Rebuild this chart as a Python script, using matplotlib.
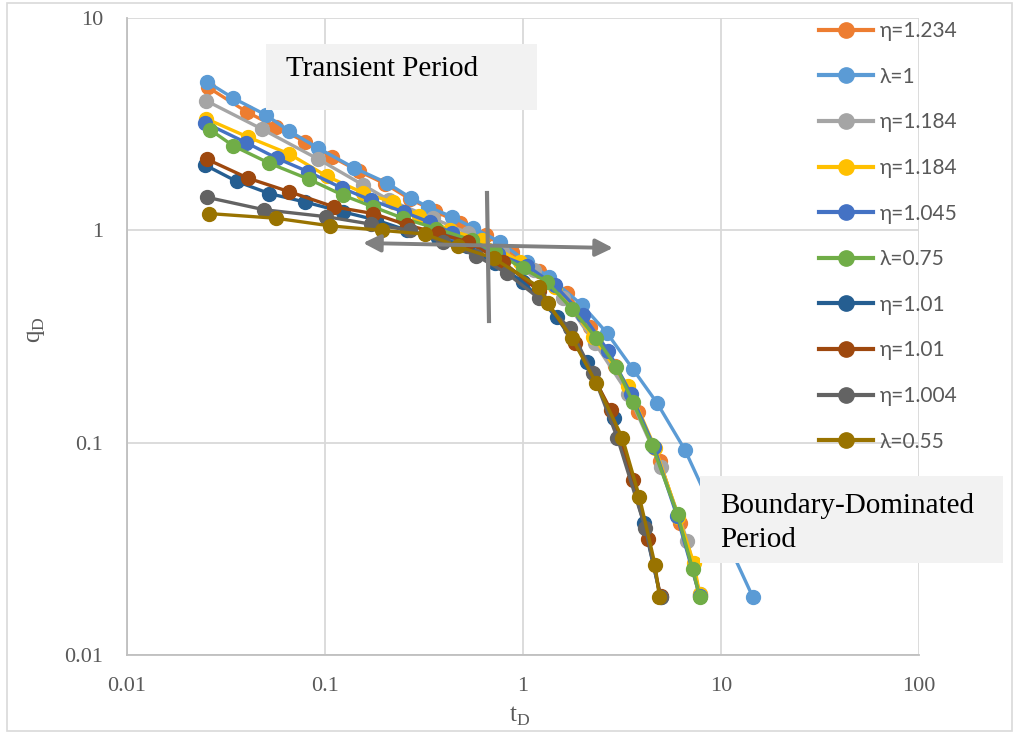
import matplotlib
matplotlib.use("Agg")
import matplotlib.pyplot as plt
from matplotlib.lines import Line2D
from matplotlib.patches import Rectangle, FancyArrowPatch
from matplotlib.ticker import FixedLocator, NullLocator

# ---- data ----
labels = ["η=1.234", "λ=1", "η=1.184", "η=1.184", "η=1.045",
          "λ=0.75", "η=1.01", "η=1.01", "η=1.004", "λ=0.55"]
colors = ["#ED7D31", "#5B9BD5", "#A5A5A5", "#FFC000", "#4472C4",
          "#70AD47", "#255E91", "#9E480E", "#636363", "#997300"]

t_eta1234 = [0.0256, 0.0405, 0.0565, 0.079, 0.108, 0.148, 0.20, 0.27, 0.36, 0.48,
             0.65, 0.88, 1.2, 1.67, 2.18, 2.9, 3.8, 4.9, 6.2, 7.8]
q_eta1234 = [4.72, 3.60, 3.07, 2.62, 2.22, 1.90, 1.66, 1.40, 1.23, 1.08,
             0.95, 0.79, 0.64, 0.507, 0.352, 0.23, 0.14, 0.082, 0.042, 0.019]

t_lam1 = [0.0254, 0.0343, 0.0504, 0.0658, 0.0923, 0.140, 0.206, 0.272, 0.331, 0.437,
          0.558, 0.766, 1.048, 1.353, 1.986, 2.66, 3.59, 4.75, 6.58, 14.5]
q_lam1 = [5.00, 4.20, 3.49, 2.94, 2.44, 1.97, 1.67, 1.42, 1.29, 1.16,
          1.03, 0.881, 0.709, 0.603, 0.445, 0.328, 0.222, 0.154, 0.0923, 0.0187]

t_eta1184a = [0.0252, 0.048, 0.092, 0.155, 0.21, 0.35, 0.53, 0.78, 1.13, 1.6,
              2.31, 3.4, 4.98, 6.76, 7.8]
q_eta1184a = [4.07, 3.0, 2.17, 1.64, 1.39, 1.14, 0.97, 0.80, 0.65, 0.48,
              0.294, 0.17, 0.077, 0.0345, 0.0194]

t_eta1184b = [0.0252, 0.0408, 0.066, 0.102, 0.156, 0.22, 0.30, 0.43, 0.62, 0.97,
              1.45, 2.27, 3.4, 4.65, 6.1, 7.3, 7.8]
q_eta1184b = [3.35, 2.75, 2.29, 1.80, 1.50, 1.36, 1.17, 1.00, 0.90, 0.71,
              0.54, 0.314, 0.184, 0.0944, 0.0448, 0.027, 0.0193]

t_eta1045 = [0.0248, 0.0399, 0.0575, 0.082, 0.122, 0.17, 0.25, 0.34, 0.44, 0.55,
             0.75, 1.05, 1.45, 2.0, 2.7, 3.5, 4.6, 6.0, 7.8]
q_eta1045 = [3.21, 2.59, 2.18, 1.89, 1.58, 1.39, 1.22, 1.09, 0.97, 0.86,
             0.77, 0.68, 0.55, 0.40, 0.27, 0.17, 0.095, 0.045, 0.019]

t_lam075 = [0.0264, 0.0344, 0.0524, 0.083, 0.124, 0.175, 0.248, 0.365, 0.55, 0.72,
            1.0, 1.32, 1.77, 2.35, 2.96, 3.58, 4.48, 6.03, 7.2, 7.8]
q_lam075 = [2.97, 2.50, 2.07, 1.74, 1.46, 1.29, 1.14, 1.02, 0.90, 0.79,
            0.662, 0.573, 0.425, 0.31, 0.228, 0.156, 0.0975, 0.046, 0.0253, 0.0188]

t_eta101a = [0.0248, 0.0358, 0.0524, 0.079, 0.124, 0.18, 0.26, 0.37, 0.52, 0.72,
             1.0, 1.48, 2.1, 2.87, 4.08, 4.95]
q_eta101a = [2.03, 1.70, 1.49, 1.36, 1.22, 1.12, 1.00, 0.92, 0.84, 0.70,
             0.573, 0.39, 0.24, 0.130, 0.0417, 0.0188]

t_eta101b = [0.0254, 0.0409, 0.066, 0.111, 0.175, 0.26, 0.37, 0.53, 0.79, 1.2,
             1.84, 2.77, 3.58, 4.3, 4.95]
q_eta101b = [2.16, 1.76, 1.52, 1.29, 1.20, 1.06, 0.97, 0.88, 0.71, 0.52,
             0.294, 0.143, 0.0667, 0.035, 0.019]

t_eta1004 = [0.0254, 0.0493, 0.101, 0.17, 0.27, 0.395, 0.58, 0.83, 1.2, 1.73,
             2.25, 3.0, 4.15, 4.95]
q_eta1004 = [1.43, 1.25, 1.16, 1.07, 1.00, 0.88, 0.76, 0.627, 0.48, 0.345,
             0.212, 0.105, 0.0395, 0.0188]

t_lam055 = [0.0258, 0.0566, 0.106, 0.193, 0.32, 0.47, 0.71, 1.20, 1.34, 1.77,
            2.35, 3.18, 3.87, 4.65, 4.88]
q_lam055 = [1.20, 1.14, 1.05, 1.00, 0.96, 0.84, 0.74, 0.542, 0.453, 0.31,
            0.19, 0.105, 0.0556, 0.0265, 0.0188]

series_t = [t_eta1234, t_lam1, t_eta1184a, t_eta1184b, t_eta1045,
            t_lam075, t_eta101a, t_eta101b, t_eta1004, t_lam055]
series_q = [q_eta1234, q_lam1, q_eta1184a, q_eta1184b, q_eta1045,
            q_lam075, q_eta101a, q_eta101b, q_eta1004, q_lam055]

x_ticks = [0.01, 0.1, 1, 10, 100]
y_ticks = [0.01, 0.1, 1, 10]
x_ticklabels = ["0.01", "0.1", "1", "10", "100"]
y_ticklabels = ["0.01", "0.1", "1", "10"]

# ---- figure ----
W, H = 1013, 732
fig = plt.figure(figsize=(W / 100, H / 100), dpi=100, facecolor="white")


def fx(px):
    return px / W


def fy(py):
    return 1 - py / H


ax = fig.add_axes([fx(127), fy(655), fx(919) - fx(127), fy(18) - fy(655)])
ax.set_xscale("log")
ax.set_yscale("log")
ax.set_xlim(0.01, 100)
ax.set_ylim(0.01, 10)

serif = ["Liberation Serif", "DejaVu Serif"]
for t, q, c in zip(series_t, series_q, colors):
    ax.plot(t, q, color=c, lw=2.4, marker="o", ms=10, mec=c, mfc=c,
            solid_capstyle="round")

ax.xaxis.set_major_locator(FixedLocator(x_ticks))
ax.yaxis.set_major_locator(FixedLocator(y_ticks))
ax.xaxis.set_minor_locator(NullLocator())
ax.yaxis.set_minor_locator(NullLocator())
ax.set_xticklabels(x_ticklabels)
ax.set_yticklabels(y_ticklabels)
ax.grid(True, color="#D9D9D9", lw=1.3, zorder=0)
ax.set_axisbelow(True)
ax.tick_params(length=0, labelsize=16, labelcolor="#595959")
ax.tick_params(axis="x", pad=16)
ax.tick_params(axis="y", pad=17)
for lab in ax.get_xticklabels() + ax.get_yticklabels():
    lab.set_family(serif)
for s in ["top", "right"]:
    ax.spines[s].set_visible(False)
for s in ["left", "bottom"]:
    ax.spines[s].set_color("#BFBFBF")
    ax.spines[s].set_linewidth(1.3)

fig.text(fx(520), fy(716), "t$_\\mathregular{D}$", family=serif, fontsize=18,
         color="#595959", ha="center", va="center")
fig.text(fx(36), fy(330), "q$_\\mathregular{D}$", family=serif, fontsize=18,
         color="#595959", ha="center", va="center", rotation=90)

# outer chart border
fig.add_artist(Rectangle((fx(7), fy(731)), fx(1012) - fx(7), fy(3) - fy(731),
                         transform=fig.transFigure, fill=False,
                         edgecolor="#D9D9D9", lw=1.2, zorder=1))

# text boxes
fig.add_artist(Rectangle((fx(266), fy(110)), fx(537) - fx(266), fy(44) - fy(110),
                         transform=fig.transFigure, facecolor="#F2F2F2",
                         edgecolor="none", zorder=5))
fig.text(fx(286), fy(69), "Transient Period", family=serif, fontsize=21,
         color="black", ha="left", va="center", zorder=6)
fig.add_artist(Rectangle((fx(700), fy(563)), fx(1003) - fx(700), fy(476) - fy(563),
                         transform=fig.transFigure, facecolor="#F2F2F2",
                         edgecolor="none", zorder=5))
fig.text(fx(720), fy(523), "Boundary-Dominated\nPeriod", family=serif, fontsize=21,
         color="black", ha="left", va="center", linespacing=1.4, zorder=6)

# arrows
fig.add_artist(FancyArrowPatch((fx(363), fy(243)), (fx(613), fy(248)),
                               transform=fig.transFigure, arrowstyle="<|-|>",
                               mutation_scale=26, color="#808080", lw=2.8,
                               shrinkA=0, shrinkB=0, zorder=4))
fig.add_artist(Line2D([fx(487), fx(489)], [fy(193), fy(321)],
                      transform=fig.transFigure, color="#808080", lw=3, zorder=4))

# legend
handles = [Line2D([], [], color=c, lw=3, marker="o", ms=11, mec=c, mfc=c)
           for c in colors]
leg = fig.legend(handles, labels, loc="upper left",
                 bbox_to_anchor=(fx(819), fy(21)), frameon=False,
                 prop={"family": ["Lato", "DejaVu Sans"], "size": 15},
                 labelcolor="#595959", handlelength=2.6, handletextpad=0.3,
                 labelspacing=1.23, borderpad=0, borderaxespad=0)
leg.set_zorder(6)

fig.savefig("out.png", dpi=100, facecolor="white")
